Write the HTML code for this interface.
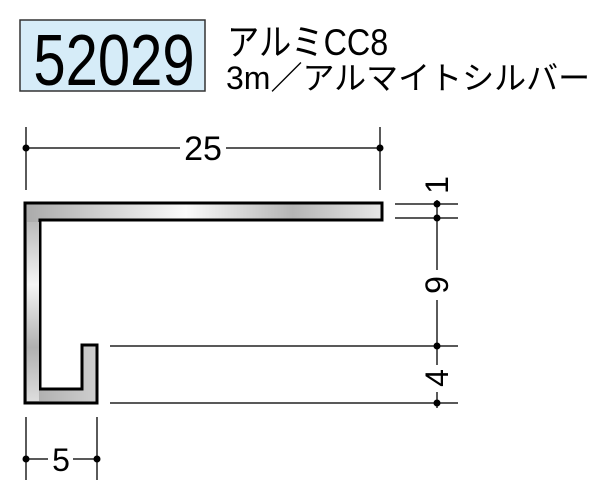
<!DOCTYPE html>
<html><head><meta charset="utf-8"><style>
html,body{margin:0;padding:0;background:#fff;width:606px;height:497px;overflow:hidden}
</style></head><body>
<svg width="606" height="497" viewBox="0 0 606 497" xmlns="http://www.w3.org/2000/svg" font-family="'Liberation Sans','Noto Sans CJK JP',sans-serif">
<defs>
<linearGradient id="gh" x1="0" x2="1" y1="0" y2="0">
<stop offset="0" stop-color="#aaa"/><stop offset="0.45" stop-color="#fafafa"/><stop offset="0.75" stop-color="#b5b5b5"/><stop offset="1" stop-color="#e8e8e8"/>
</linearGradient>
<linearGradient id="gv" x1="0" x2="0" y1="0" y2="1">
<stop offset="0" stop-color="#bbb"/><stop offset="0.35" stop-color="#f5f5f5"/><stop offset="0.7" stop-color="#b0b0b0"/><stop offset="1" stop-color="#ddd"/>
</linearGradient>
</defs>
<rect x="20" y="20" width="185" height="71" fill="#d6ecf8" stroke="#333" stroke-width="1.5"/>
<text transform="translate(114,85) scale(1,1.24)" font-size="58" text-anchor="middle" fill="#000">52029</text>
<text transform="translate(227,55) scale(0.95,1.08)" font-size="34" fill="#000">アルミCC8</text>
<text x="226" y="89" font-size="32" fill="#000">3m／アルマイトシルバー</text>

<path d="M25,203 H382 V220 H40 V389 H82 V345 H97 V403 H25 Z" fill="url(#gh)" stroke="#000" stroke-width="3"/>
<rect x="27" y="222" width="12" height="179" fill="url(#gv)"/>

<g stroke="#222" stroke-width="1.5" fill="none">
<line x1="26" y1="127" x2="26" y2="190"/>
<line x1="380" y1="127" x2="380" y2="190"/>
<line x1="26" y1="148" x2="180" y2="148"/>
<line x1="226" y1="148" x2="380" y2="148"/>
<line x1="26" y1="417" x2="26" y2="480"/>
<line x1="97" y1="417" x2="97" y2="480"/>
<line x1="26" y1="459" x2="48" y2="459"/>
<line x1="73" y1="459" x2="97" y2="459"/>
<line x1="395" y1="204" x2="458" y2="204"/>
<line x1="395" y1="218" x2="458" y2="218"/>
<line x1="110" y1="346" x2="458" y2="346"/>
<line x1="110" y1="403" x2="458" y2="403"/>
<line x1="437" y1="200" x2="437" y2="270"/>
<line x1="437" y1="300" x2="437" y2="365"/>
<line x1="437" y1="392" x2="437" y2="408"/>
</g>
<g fill="#000">
<circle cx="26" cy="148" r="3.5"/><circle cx="380" cy="148" r="3.5"/>
<circle cx="26" cy="459" r="3.5"/><circle cx="97" cy="459" r="3.5"/>
<circle cx="437" cy="204" r="3.5"/><circle cx="437" cy="218" r="3.5"/>
<circle cx="437" cy="346" r="3.5"/><circle cx="437" cy="403" r="3.5"/>
</g>
<text x="203" y="160" font-size="34" text-anchor="middle">25</text>
<text x="61" y="471" font-size="32" text-anchor="middle">5</text>
<text transform="translate(448,185) rotate(-90)" font-size="32" text-anchor="middle">1</text>
<text transform="translate(448,285) rotate(-90)" font-size="32" text-anchor="middle">9</text>
<text transform="translate(448,378) rotate(-90)" font-size="32" text-anchor="middle">4</text>
</svg>
</body></html>
